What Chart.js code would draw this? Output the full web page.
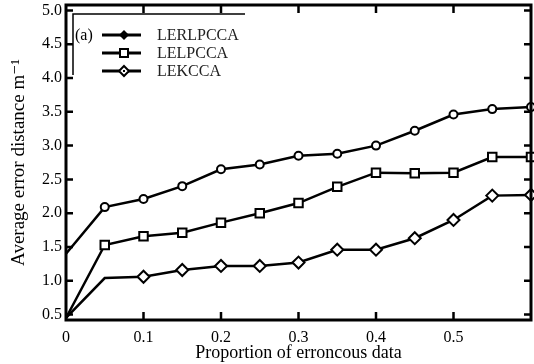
<!DOCTYPE html>
<html>
<head>
<meta charset="utf-8">
<script src="https://cdn.jsdelivr.net/npm/chart.js@4.4.1/dist/chart.umd.min.js"></script>
<style>
  html, body { margin: 0; padding: 0; background: #fff; }
  #wrap { width: 534px; height: 364px; }
</style>
</head>
<body>
<div id="wrap"><canvas id="myChart" width="534" height="364"></canvas></div>
<script>
// values
var xValues = [0, 0.05, 0.1, 0.15, 0.2, 0.25, 0.3, 0.35, 0.4, 0.45, 0.5, 0.55, 0.6];
var lerlpcca = [1.40, 2.09, 2.21, 2.40, 2.65, 2.72, 2.85, 2.88, 3.00, 3.22, 3.46, 3.54, 3.57];
var lelpcca  = [0.45, 1.53, 1.66, 1.71, 1.86, 2.00, 2.15, 2.39, 2.60, 2.59, 2.60, 2.83, 2.83];
var lekcca   = [0.45, 1.04, 1.06, 1.16, 1.22, 1.22, 1.27, 1.46, 1.46, 1.63, 1.90, 2.26, 2.27];
var seriesNames = ['LERLPCCA', 'LELPCCA', 'LEKCCA'];
var xTicks = [0, 0.1, 0.2, 0.3, 0.4, 0.5];
var xTickLabels = ['0', '0.1', '0.2', '0.3', '0.4', '0.5'];
var yTicks = [0.5, 1.0, 1.5, 2.0, 2.5, 3.0, 3.5, 4.0, 4.5, 5.0];
var yTickLabels = ['0.5', '1.0', '1.5', '2.0', '2.5', '3.0', '3.5', '4.0', '4.5', '5.0'];

var serif = "'Liberation Serif', 'DejaVu Serif', serif";

function pts(ys) {
  return ys.map(function (y, i) { return { x: xValues[i], y: y }; });
}

// first point of every curve has no marker, LEKCCA also skips 0.05
function radiusFor(r, skip) {
  return function (ctx) { return skip.indexOf(ctx.dataIndex) >= 0 ? 0 : r; };
}

var frame = {
  id: 'frame',
  afterDraw: function (chart) {
    var c = chart.ctx, a = chart.chartArea;
    var xs = chart.scales.x, ys = chart.scales.y;
    c.save();
    c.strokeStyle = '#000';
    c.lineWidth = 3;
    c.strokeRect(a.left, a.top, a.right - a.left, a.bottom - a.top);

    // inward ticks
    c.lineWidth = 2.5;
    c.beginPath();
    xTicks.forEach(function (v) {
      if (v === 0) return;
      var px = xs.getPixelForValue(v);
      c.moveTo(px, a.bottom); c.lineTo(px, a.bottom - 8);
      c.moveTo(px, a.top); c.lineTo(px, a.top + 8);
    });
    yTicks.forEach(function (v) {
      var py = ys.getPixelForValue(v);
      c.moveTo(a.left, py); c.lineTo(a.left + 7, py);
      c.moveTo(a.right, py); c.lineTo(a.right - 7, py);
    });
    c.stroke();

    // thin inner line left over in the scan
    c.lineWidth = 1.5;
    c.beginPath();
    c.moveTo(73, 75); c.lineTo(73, 14); c.lineTo(245, 14);
    c.stroke();

    // legend
    c.fillStyle = '#000';
    c.font = '16px ' + serif;
    c.textBaseline = 'middle';
    c.textAlign = 'left';
    c.fillText('(a)', 75, 36);
    var rows = [35, 53, 71];
    chart.data.datasets.forEach(function (ds, i) {
      var y = rows[i];
      c.lineWidth = 3;
      c.beginPath(); c.moveTo(102, y); c.lineTo(141, y); c.stroke();
      var mx = 124;
      c.lineWidth = 2;
      if (i === 0) {
        c.beginPath();
        c.moveTo(mx, y - 5); c.lineTo(mx + 5, y); c.lineTo(mx, y + 5); c.lineTo(mx - 5, y);
        c.closePath(); c.fill();
      } else if (i === 1) {
        c.fillStyle = '#fff';
        c.fillRect(mx - 4, y - 4, 8, 8);
        c.strokeRect(mx - 4, y - 4, 8, 8);
        c.fillStyle = '#000';
      } else {
        c.beginPath();
        c.moveTo(mx, y - 5); c.lineTo(mx + 5, y); c.lineTo(mx, y + 5); c.lineTo(mx - 5, y);
        c.closePath();
        c.fillStyle = '#fff'; c.fill(); c.stroke();
        c.fillStyle = '#000';
        c.fillRect(mx - 1, y - 1, 2, 2);
      }
      c.fillStyle = '#222';
      c.fillText(ds.label, 157, y + 1);
      c.fillStyle = '#000';
    });
    c.restore();
  }
};

var common = {
  borderColor: '#000',
  backgroundColor: '#fff',
  pointBorderColor: '#000',
  pointBackgroundColor: '#fff',
  borderWidth: 2.5,
  pointBorderWidth: 2,
  tension: 0,
  clip: false
};

var data = {
  datasets: [
    Object.assign({
      label: seriesNames[0],
      data: pts(lerlpcca),
      pointStyle: 'circle',
      pointRadius: radiusFor(4, [0])
    }, common),
    Object.assign({
      label: seriesNames[1],
      data: pts(lelpcca),
      pointStyle: 'rect',
      pointRadius: radiusFor(6, [0])
    }, common),
    Object.assign({
      label: seriesNames[2],
      data: pts(lekcca),
      pointStyle: 'rectRot',
      pointRadius: radiusFor(6, [0, 1])
    }, common)
  ]
};

var options = {
  responsive: false,
  animation: false,
  layout: { autoPadding: false, padding: { top: 5, right: 3, left: 0, bottom: 0 } },
  scales: {
    x: {
      type: 'linear',
      min: 0,
      max: 0.6,
      grid: { display: false, drawTicks: false },
      border: { display: false },
      afterBuildTicks: function (s) { s.ticks = xTicks.map(function (v) { return { value: v }; }); },
      afterFit: function (s) { s.height = 44; s.paddingLeft = 0; s.paddingRight = 0; },
      ticks: {
        padding: 8,
        color: '#000',
        font: { family: serif, size: 16 },
        maxRotation: 0,
        callback: function (v) { return xTickLabels[xTicks.indexOf(v)]; }
      },
      title: {
        display: true,
        text: 'Proportion of erroncous data',
        color: '#000',
        font: { family: serif, size: 18 },
        padding: { top: 0, bottom: 0 }
      }
    },
    y: {
      min: 0.42,
      max: 5.08,
      grid: { display: false, drawTicks: false },
      border: { display: false },
      afterBuildTicks: function (s) { s.ticks = yTicks.map(function (v) { return { value: v }; }); },
      afterFit: function (s) { s.width = 66; s.paddingTop = 0; s.paddingBottom = 0; },
      ticks: {
        padding: 4,
        color: '#000',
        font: { family: serif, size: 16 },
        callback: function (v) { return yTickLabels[yTicks.indexOf(v)]; }
      },
      title: {
        display: true,
        text: 'Average error distance m\u207B\u00B9',
        color: '#000',
        font: { family: serif, size: 19 },
        padding: { top: 8, bottom: 0 }
      }
    }
  },
  plugins: {
    legend: { display: false },
    tooltip: { enabled: false }
  }
};

var ctx = document.getElementById('myChart').getContext('2d');
var lineChart = new Chart(ctx, {
  type: 'line',
  data: data,
  options: options,
  plugins: [frame]
});
</script>
</body>
</html>
